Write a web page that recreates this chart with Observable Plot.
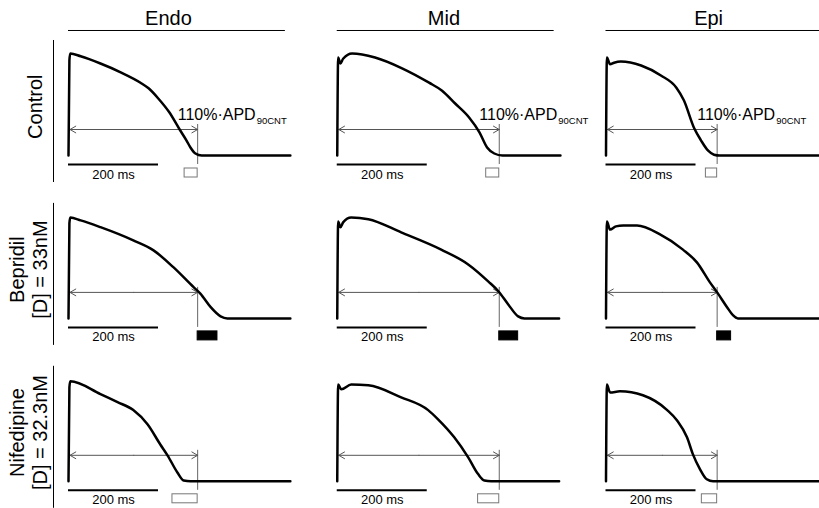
<!DOCTYPE html>
<html>
<head>
<meta charset="utf-8">
<script src="https://cdn.jsdelivr.net/npm/d3@7"></script>
<script src="https://cdn.jsdelivr.net/npm/@observablehq/plot@0.6"></script>
<style>
  html, body { margin: 0; padding: 0; background: #fff; }
  #chart { width: 819px; height: 508px; }
</style>
</head>
<body>
<div id="chart"></div>
<script>
// ---------- data (time in ms, membrane potential in mV) ----------
const columns = ["Endo", "Mid", "Epi"];
const rows = ["Control", "Bepridil", "Nifedipine"];
const rowLabels = ["Control", "Bepridil\n[D] = 33nM", "Nifedipine\n[D] = 32.3nM"];

const endoControl = [[0,-85],[2,34],[4,42.5],[27,39],[71,30],[116,19],[160,6],[178,-1],[200,-14],[224,-31],[247,-52.5],[262,-66],[271,-75],[282,-82.5],[296,-85],[493,-85]];
const midControl  = [[0,-85],[2,37.5],[7,30],[13,36],[33,42.5],[84,37.5],[144,24],[204,6],[233,-4],[262,-20],[293,-37.5],[316,-56],[333,-75],[349,-82.5],[367,-85],[496,-85]];
const epiControl  = [[0,-85],[2,37.5],[9,29],[18,31],[33,32.5],[78,27.5],[122,15],[156,0],[173,-16],[196,-51],[211,-66],[227,-79],[240,-84],[253,-85],[480,-85]];

const endoBepridil = [[0,-85],[2,34],[4,41],[27,37.5],[71,29],[144,12.5],[189,0],[233,-21],[278,-46],[293,-54],[316,-71],[338,-82.5],[353,-85],[493,-85]];
const midBepridil  = [[0,-85],[2,36],[7,29],[13,35],[31,41],[69,39],[142,22.5],[231,1],[291,-17.5],[336,-39],[358,-51],[380,-67.5],[402,-82.5],[416,-85],[493,-85]];
const epiBepridil  = [[0,-85],[2,36],[9,26],[22,30],[38,31],[69,31],[120,20],[171,1],[202,-15],[231,-40],[247,-52.5],[269,-71],[282,-81],[293,-85],[480,-85]];

const endoNifedipine = [[0,-85],[2,32.5],[4,40],[71,24],[109,14],[144,4],[176,-14],[204,-39],[220,-52.5],[242,-74],[256,-84],[271,-85],[493,-85]];
const midNifedipine  = [[0,-85],[2,36],[9,30],[31,36],[69,35],[142,20],[202,4],[224,-7.5],[260,-30],[291,-55],[313,-76],[327,-84],[342,-85],[493,-85]];
const epiNifedipine  = [[0,-85],[2,36],[9,26],[31,27.5],[82,22.5],[136,4],[158,-9],[180,-30],[193,-51],[209,-70],[224,-82.5],[238,-85],[480,-85]];

// 110%·APD90 of control, per column (ms)
const limit110 = [287, 360, 247];
// APD90 per row, per column (ms)
const apd90Control    = [258, 331, 222];
const apd90Bepridil   = [331, 402, 278];
const apd90Nifedipine = [231, 313, 213];

const scaleBarMs = 200;
const thresholdText = "110%·APD";
const thresholdSub = "90CNT";

// ---------- assemble tables ----------
const traceSets = [
  [endoControl, midControl, epiControl],
  [endoBepridil, midBepridil, epiBepridil],
  [endoNifedipine, midNifedipine, epiNifedipine]
];
const apdSets = [apd90Control, apd90Bepridil, apd90Nifedipine];

const traces = [];
const cells = [];
rows.forEach((row, r) => {
  columns.forEach((col, c) => {
    traceSets[r][c].forEach(([t, v]) => traces.push({row, col, key: row + col, t, v}));
    cells.push({row, col, limit: limit110[c], apd: apdSets[r][c]});
  });
});

// ---------- layout constants (ms / mV in panel coordinates) ----------
const arrowY = -52.5, arrowStart = 3.3;
const headerX = {Endo: 222, Mid: 237, Epi: 228};
const font = "'Liberation Sans', Arial, Helvetica, sans-serif";

const chart = Plot.plot({
  width: 819,
  height: 508,
  marginLeft: 68,
  marginRight: 0.5,
  marginTop: 45,
  marginBottom: 7.2,
  style: {fontFamily: font, background: "white", overflow: "visible"},
  x: {domain: [0, 473.33], axis: null},
  y: {domain: [-110, 52.5], axis: null},
  fx: {domain: columns, axis: null, paddingInner: 0.20744, paddingOuter: 0, round: false},
  fy: {domain: rows, axis: null, paddingInner: 0.20196, paddingOuter: 0, round: false},
  marks: [
    // column headers
    Plot.ruleY(columns, {fx: d => d, fy: () => "Control", y: () => 71.25, x1: () => 0, x2: () => 482, stroke: "black", strokeWidth: 1}),
    Plot.text(columns, {fx: d => d, fy: () => "Control", x: d => headerX[d], y: () => 77.5, text: d => d, fontSize: 20, lineAnchor: "bottom", textAnchor: "middle"}),
    // row labels
    Plot.ruleX(rows, {fx: () => "Endo", fy: d => d, x: () => -33.3, y1: () => -118.75, y2: () => 58.75, stroke: "black", strokeWidth: 1}),
    Plot.text(rows, {fx: () => "Endo", fy: d => d, x: (d, i) => (i === 0 ? -58.9 : -47.8), y: () => -24, text: (d, i) => rowLabels[i], rotate: -90, fontSize: 20, lineAnchor: "bottom", lineHeight: 1.15, textAnchor: "middle"}),
    // 110% APD90 control threshold lines
    Plot.ruleX(cells, {fx: "col", fy: "row", x: "limit", y1: () => -46.25, y2: () => -96.25, stroke: "#666", strokeWidth: 1}),
    // double-headed arrows
    Plot.arrow(cells, {fx: "col", fy: "row", x1: d => (arrowStart + d.limit) / 2, x2: () => arrowStart, y1: () => arrowY, y2: () => arrowY, stroke: "#555", strokeWidth: 1, headLength: 10, headAngle: 60}),
    Plot.arrow(cells, {fx: "col", fy: "row", x1: d => (arrowStart + d.limit) / 2, x2: "limit", y1: () => arrowY, y2: () => arrowY, stroke: "#555", strokeWidth: 1, headLength: 10, headAngle: 60}),
    // APD90 difference boxes
    Plot.rect(cells.filter(d => d.apd <= d.limit), {fx: "col", fy: "row", x1: "apd", x2: "limit", y1: () => -101.25, y2: () => -112.5, fill: "white", stroke: "#777", strokeWidth: 1}),
    Plot.rect(cells.filter(d => d.apd > d.limit), {fx: "col", fy: "row", x1: "limit", x2: "apd", y1: () => -101.25, y2: () => -112.5, fill: "black", stroke: "black", strokeWidth: 1}),
    // scale bars
    Plot.ruleY(cells, {fx: "col", fy: "row", y: () => -96.25, x1: () => 0, x2: () => scaleBarMs, stroke: "black", strokeWidth: 2}),
    Plot.text(cells, {fx: "col", fy: "row", x: () => scaleBarMs / 2, y: () => -113.75, text: () => `${scaleBarMs} ms`, fontSize: 13, lineAnchor: "bottom", textAnchor: "middle"}),
    // action potential traces
    Plot.line(traces, {fx: "col", fy: "row", x: "t", y: "v", z: "key", stroke: "black", strokeWidth: 2.5, curve: "monotone-x", strokeLinejoin: "round"}),
    // threshold labels (control row)
    Plot.text(cells.filter(d => d.row === "Control"), {fx: "col", fy: "row", x: "limit", y: () => -40.4, text: () => thresholdText, textAnchor: "end", dx: 58, fontSize: 16, lineAnchor: "bottom"}),
    Plot.text(cells.filter(d => d.row === "Control"), {fx: "col", fy: "row", x: "limit", y: () => -40.4, text: () => thresholdSub, textAnchor: "start", dx: 59, dy: 4, fontSize: 9.5, lineAnchor: "bottom"})
  ]
});
document.getElementById("chart").appendChild(chart);
</script>
</body>
</html>
